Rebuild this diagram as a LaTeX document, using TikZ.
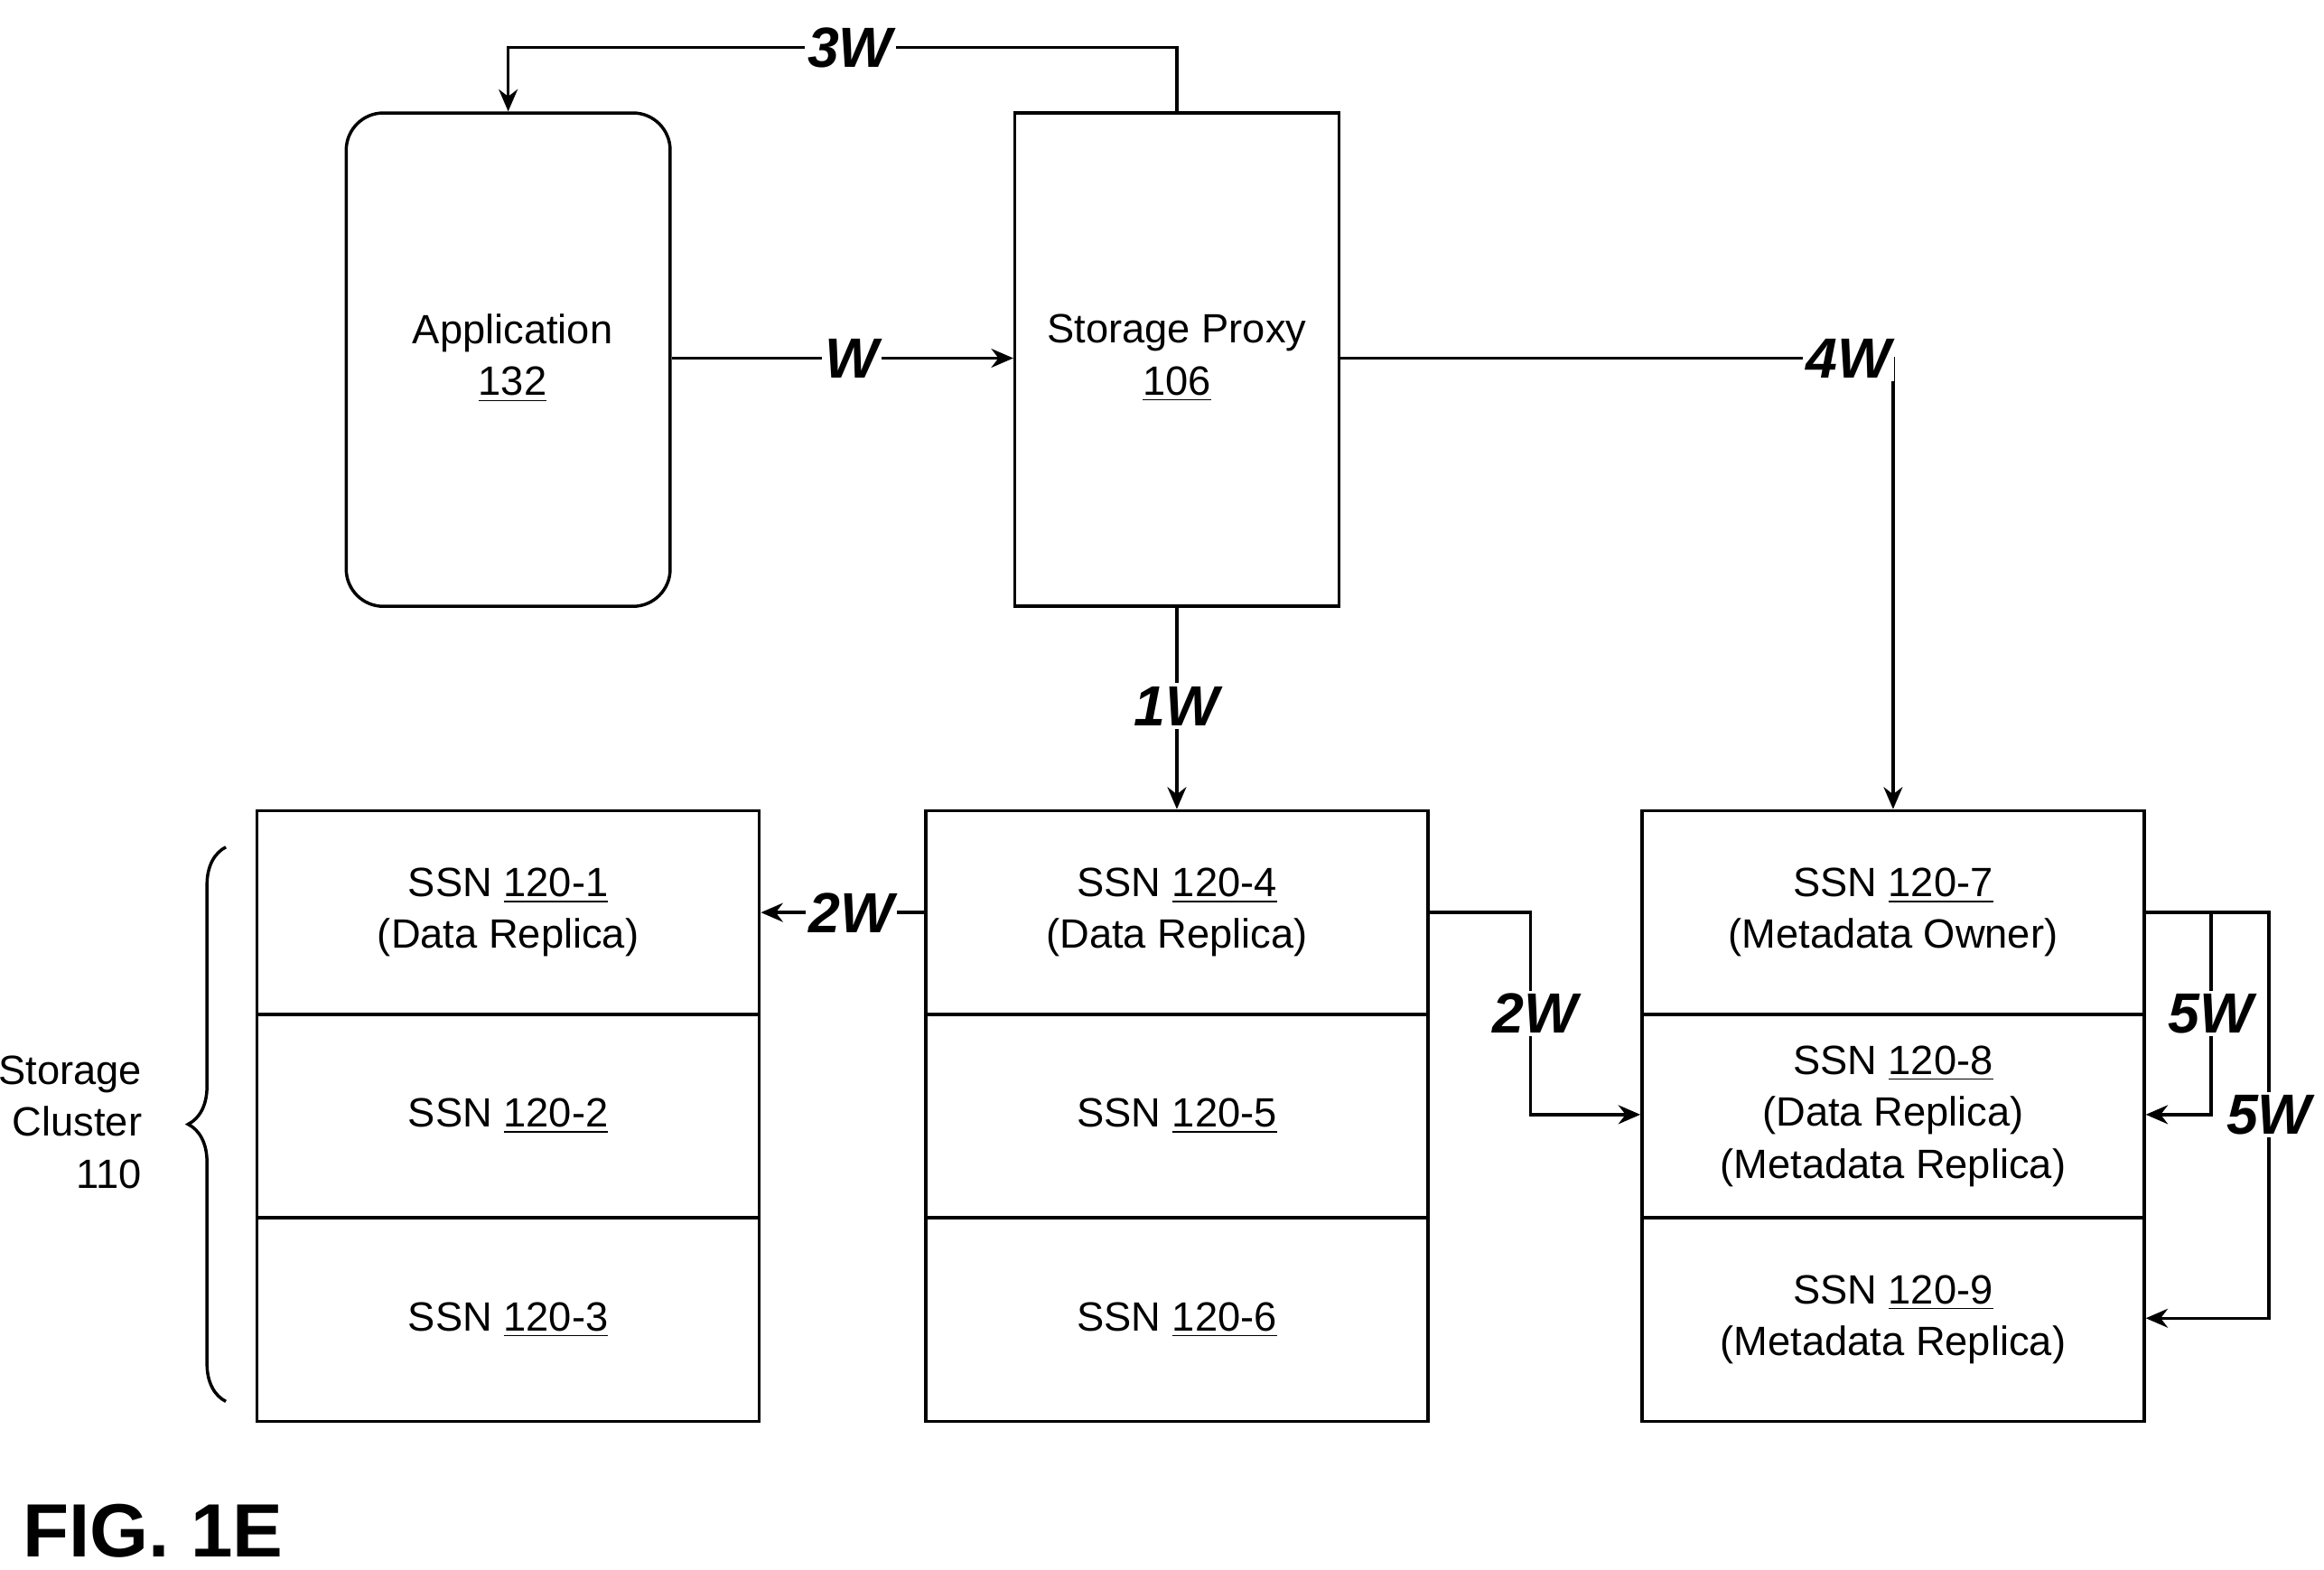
\documentclass[tikz,border=0pt]{standalone}
\usepackage{fontspec}
\setmainfont{Liberation Sans}
\usetikzlibrary{arrows.meta,decorations.pathreplacing}
\begin{document}
\begin{tikzpicture}[x=0.0166cm,y=-0.0166cm,
  box/.style={draw,line width=1pt,minimum width=218*0.0166cm,minimum height=332*0.0166cm,inner sep=0},
  cell/.style={draw,line width=1pt,minimum width=338*0.0166cm,minimum height=137*0.0166cm,inner sep=0,align=center,font=\fontsize{13}{16.5}\selectfont},
  lbl/.style={fill=white,inner sep=1pt,font=\fontsize{18}{20}\selectfont\bfseries\itshape},
  con/.style={line width=1pt},
  arr/.style={con,-{Stealth[length=7pt,width=6pt]}},
  txt/.style={font=\fontsize{13}{16.5}\selectfont,align=center}]
\useasboundingbox (0,0) rectangle (1564,1056);
\node[box,rounded corners=25*0.0166cm] (app) at (342,242) {};
\node[txt] at (345,241) {Application\\\underline{132}};
\node[box] (px) at (792,242) {};
\node[txt] at (792,241) {Storage Proxy\\\underline{106}};
% columns
\foreach \c/\x/\a/\b/\cc in {1/342/{SSN \underline{120-1}\\(Data Replica)}/{SSN \underline{120-2}}/{SSN \underline{120-3}},
  2/792/{SSN \underline{120-4}\\(Data Replica)}/{SSN \underline{120-5}}/{SSN \underline{120-6}},
  3/1274/{SSN \underline{120-7}\\(Metadata Owner)}/{SSN \underline{120-8}\\(Data Replica)\\(Metadata Replica)}/{SSN \underline{120-9}\\(Metadata Replica)}}{
  \node[cell] (s\c a) at (\x,614) {\a};
  \node[cell] (s\c b) at (\x,751) {\b};
  \node[cell] (s\c c) at (\x,888) {\cc};
}
\coordinate (t1) at (792,32); \coordinate (t2) at (342,32);
\draw[arr] (px.north -| t1) -- (t1) -- (t2) -- (app.north -| t2);
\node[lbl] at (572,32) {3W};
\draw[arr] (app.east |- 0,241) -- (px.west |- 0,241);
\node[lbl] at (573,241) {W};
\coordinate (f1) at (1274,241);
\draw[arr] (px.east |- f1) -- (f1) -- (s3a.north);
\node[lbl] at (1244,241) {4W};
\draw[arr] (px.south) -- (s2a.north);
\node[lbl] at (792,475) {1W};
\draw[arr] (s2a.west) -- (s1a.east);
\node[lbl] at (573,614) {2W};
\coordinate (g1) at (1030,614); \coordinate (g2) at (1030,750);
\draw[arr] (s2a.east) -- (g1) -- (g2) -- (s3b.west |- g2);
\node[lbl] at (1033,682) {2W};
\coordinate (h1) at (1488,614); \coordinate (h2) at (1488,750);
\draw[arr] (s3a.east) -- (h1) -- (h2) -- (s3b.east |- h2);
\node[lbl] at (1488,682) {5W};
\coordinate (k1) at (1527,614); \coordinate (k2) at (1527,887);
\draw[arr] (h1) -- (k1) -- (k2) -- (s3c.east |- k2);
\node[lbl] at (1527,750) {5W};
\draw[con,decorate,decoration={brace,amplitude=12pt}] (152,943) -- (152,570);
\node[txt,align=right,anchor=east] at (103,755) {Storage\\Cluster\\110};
\node[anchor=west,font=\fontsize{24}{26}\selectfont\bfseries] at (8,1030) {FIG. 1E};
\end{tikzpicture}
\end{document}
